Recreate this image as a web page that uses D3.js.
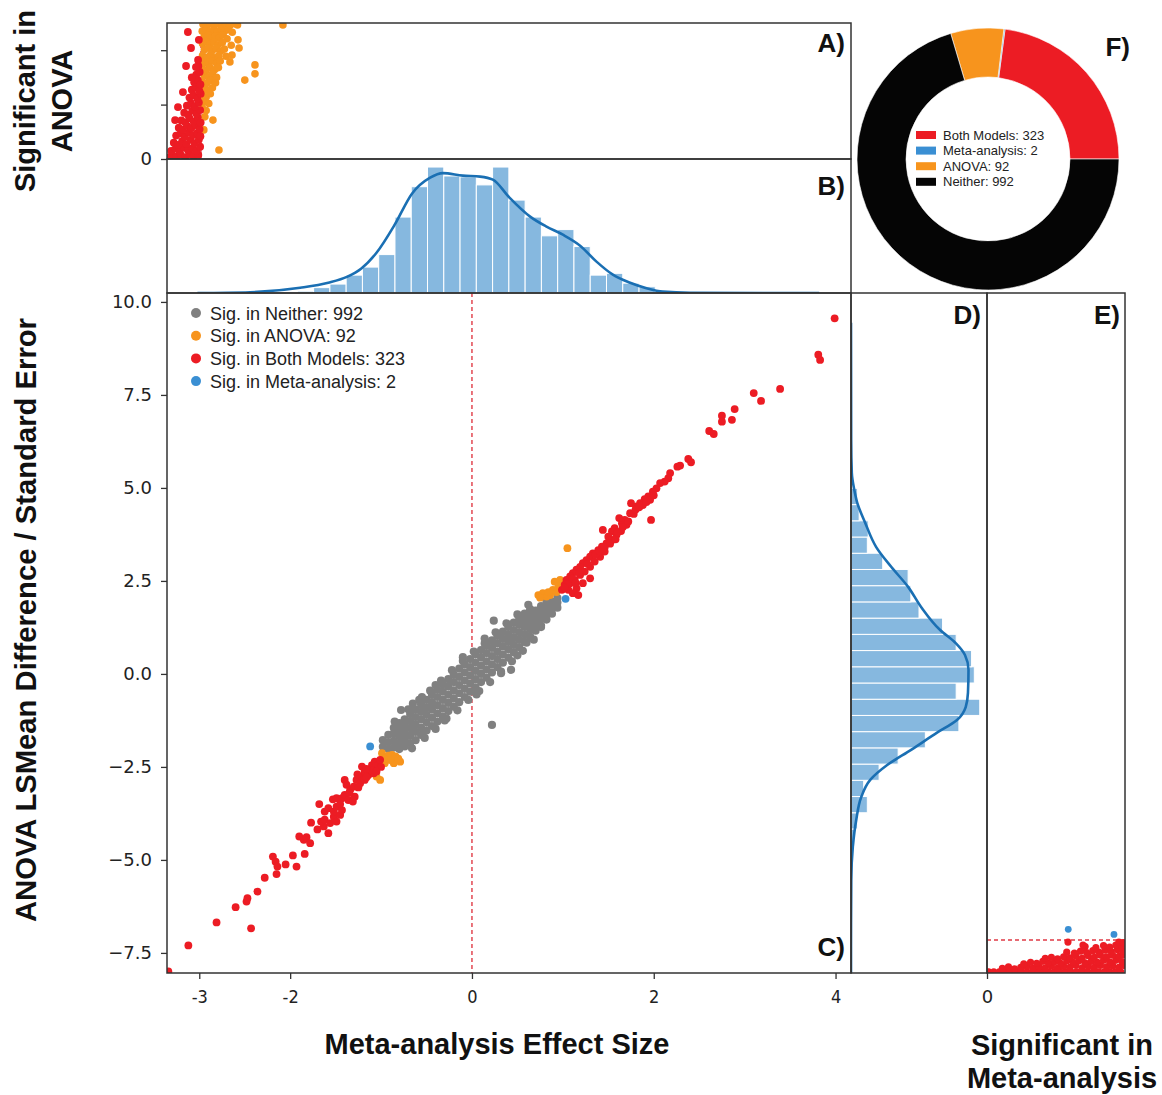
<!DOCTYPE html>
<html>
<head>
<meta charset="utf-8">
<script src="https://cdn.jsdelivr.net/npm/d3@7"></script>
<style>
body { margin: 0; background: #fff; }
svg text { font-family: "Liberation Sans", Arial, sans-serif; fill: #111; }
</style>
</head>
<body>
<div id="chart"></div>
<script>
// ---- data ----
var xTicks = [-3, -2, 0, 2, 4];
var yTicks = [10, 7.5, 5, 2.5, 0, -2.5, -5, -7.5];

var sigNeither = [
  [-0.98,-1.96],[-0.98,-1.78],
  [-0.92,-2.02],[-0.92,-1.84],[-0.92,-1.64],
  [-0.86,-1.98],[-0.86,-1.8],[-0.86,-1.6],[-0.86,-1.45],
  [-0.8,-2.02],[-0.8,-1.85],[-0.8,-1.66],[-0.8,-1.48],[-0.8,-1.32],
  [-0.74,-1.95],[-0.74,-1.76],[-0.74,-1.58],[-0.74,-1.4],[-0.74,-1.22],
  [-0.68,-1.86],[-0.68,-1.66],[-0.68,-1.46],[-0.68,-1.27],[-0.68,-1.08],
  [-0.62,-1.78],[-0.62,-1.56],[-0.62,-1.36],[-0.62,-1.16],[-0.62,-0.96],
  [-0.56,-1.64],[-0.56,-1.44],[-0.56,-1.22],[-0.56,-1.02],[-0.56,-0.82],
  [-0.5,-1.52],[-0.5,-1.3],[-0.5,-1.1],[-0.5,-0.9],[-0.5,-0.7],
  [-0.44,-1.4],[-0.44,-1.18],[-0.44,-0.96],[-0.44,-0.76],[-0.44,-0.56],
  [-0.38,-1.28],[-0.38,-1.06],[-0.38,-0.84],[-0.38,-0.62],[-0.38,-0.42],
  [-0.32,-1.14],[-0.32,-0.92],[-0.32,-0.7],[-0.32,-0.48],[-0.32,-0.28],
  [-0.26,-1.0],[-0.26,-0.78],[-0.26,-0.56],[-0.26,-0.34],[-0.26,-0.14],
  [-0.2,-0.88],[-0.2,-0.66],[-0.2,-0.44],[-0.2,-0.22],[-0.2,-0.02],
  [-0.14,-0.76],[-0.14,-0.52],[-0.14,-0.3],[-0.14,-0.08],[-0.14,0.14],
  [-0.08,-0.62],[-0.08,-0.4],[-0.08,-0.18],[-0.08,0.04],[-0.08,0.26],
  [-0.02,-0.48],[-0.02,-0.26],[-0.02,-0.04],[-0.02,0.18],[-0.02,0.4],
  [0.04,-0.36],[0.04,-0.14],[0.04,0.08],[0.04,0.3],[0.04,0.52],
  [0.1,-0.22],[0.1,0],[0.1,0.22],[0.1,0.44],[0.1,0.64],
  [0.16,-0.1],[0.16,0.12],[0.16,0.34],[0.16,0.56],[0.16,0.76],
  [0.22,0.04],[0.22,0.26],[0.22,0.48],[0.22,0.7],[0.22,0.9],
  [0.28,0.18],[0.28,0.4],[0.28,0.6],[0.28,0.82],[0.28,1.02],
  [0.34,0.3],[0.34,0.52],[0.34,0.74],[0.34,0.94],[0.34,1.14],
  [0.4,0.44],[0.4,0.66],[0.4,0.86],[0.4,1.06],[0.4,1.26],
  [0.46,0.58],[0.46,0.78],[0.46,0.98],[0.46,1.18],[0.46,1.38],
  [0.52,0.72],[0.52,0.92],[0.52,1.12],[0.52,1.32],[0.52,1.5],
  [0.58,0.86],[0.58,1.06],[0.58,1.26],[0.58,1.44],[0.58,1.62],
  [0.64,1.0],[0.64,1.2],[0.64,1.38],[0.64,1.56],[0.64,1.74],
  [0.7,1.16],[0.7,1.34],[0.7,1.52],[0.7,1.7],
  [0.76,1.3],[0.76,1.48],[0.76,1.64],[0.76,1.82],
  [0.82,1.46],[0.82,1.62],[0.82,1.78],[0.82,1.94],
  [0.88,1.62],[0.88,1.78],[0.88,1.94],
  [0.94,1.78],[0.94,1.92],[0.94,2.04],
  [-0.7,-0.95],[-0.58,-0.7],[-0.46,-0.45],[-0.34,-0.18],[-0.22,0.1],[-0.1,0.35],
  [0.02,0.6],[0.14,0.82],[0.26,1.12],[0.38,1.36],[0.5,1.6],[0.62,1.86],
  [-0.66,-2.0],[-0.52,-1.72],[-0.4,-1.48],[-0.28,-1.2],[-0.16,-0.98],[-0.04,-0.7],
  [0.08,-0.46],[0.2,-0.22],[0.32,0.06],[0.44,0.34],[0.56,0.62],[0.68,0.92],
  [-0.78,-0.97],[0.22,-1.37],[0.43,0.11],[0.6,0.84],[0.76,1.26],[0.24,1.43],
  [-0.55,-0.62],[-0.4,-0.3],[-0.1,0.45],[0.05,-0.55],[0.32,0.02],[-0.65,-0.8],
  [-0.3,-1.25],[0.5,0.5],[0.14,0.95],[-0.85,-1.28]
];

var sigAnova = [
  [-0.99,-2.13],[-0.94,-2.27],[-0.88,-2.18],[-0.83,-2.31],[-0.86,-2.4],[-0.79,-2.36],
  [-0.96,-2.4],[-1.01,-2.85],[-1.05,-2.76],[-0.92,-2.2],[-0.9,-2.32],[-0.84,-2.22],
  [-0.81,-2.28],[-0.97,-2.28],
  [0.73,2.12],[0.78,2.17],[0.86,2.12],[0.89,2.26],[0.95,2.35],[0.91,2.48],[0.97,2.53],
  [0.82,2.08],[1.05,3.38],[0.84,2.2],[0.93,2.2],[0.99,2.42],[0.75,2.05]
];

var sigBoth = [
  [-3.34,-8.0],[-3.12,-7.3],[-2.81,-6.68],[-2.43,-6.84],[-2.6,-6.27],[-2.48,-6.12],[-2.47,-6.03],
  [-2.36,-5.85],[-2.28,-5.48],[-2.15,-5.38],[-2.19,-4.91],[-2.16,-5.05],[-2.14,-5.18],[-2.05,-5.12],
  [-1.97,-4.88],[-1.93,-5.18],[-1.84,-4.84],[-1.9,-4.37],[-1.85,-4.46],[-1.82,-4.39],[-1.78,-4.55],
  [-1.77,-4.0],[-1.68,-3.5],[-1.7,-4.18],[-1.63,-4.1],[-1.58,-4.28],[-1.66,-3.97],[-1.62,-3.92],
  [-1.56,-4.01],[-1.52,-3.84],[-1.49,-3.97],[-1.45,-3.79],[-1.62,-3.7],[-1.58,-3.61],[-1.52,-3.7],
  [-1.49,-3.57],[-1.43,-3.66],[-1.53,-3.37],[-1.49,-3.34],[-1.43,-3.34],[-1.4,-3.25],[-1.36,-3.39],
  [-1.31,-3.43],[-1.29,-3.3],[-1.4,-2.85],[-1.38,-2.98],[-1.34,-3.12],[-1.3,-3.03],[-1.27,-2.85],
  [-1.23,-2.94],[-1.21,-2.76],[-1.18,-2.85],[-1.14,-2.72],[-1.18,-2.63],[-1.12,-2.58],[-1.08,-2.67],
  [-1.05,-2.53],[-1.21,-2.49],[-1.1,-2.45],[-1.07,-2.36],[-1.03,-2.45],[-1.01,-2.31],
  [-1.25,-3.05],[-1.16,-2.78],[-1.1,-2.6],[-1.45,-3.5],[-1.35,-3.2],[-1.26,-2.7],[-1.16,-2.55],
  [-1.0,-2.5],[-1.05,-2.62],
  [3.99,9.56],[3.81,8.58],[3.83,8.44],[3.39,7.66],[3.1,7.55],[3.18,7.34],[2.89,7.12],[2.75,6.94],
  [2.75,6.78],[2.86,6.83],[2.61,6.53],[2.66,6.45],[2.38,5.78],[2.41,5.69],[2.26,5.57],[2.29,5.6],
  [2.18,5.4],[2.16,5.26],[2.12,5.17],[2.07,5.13],[2.03,4.99],[1.99,4.9],[1.94,4.77],[1.9,4.7],
  [1.85,4.59],[1.81,4.5],[1.75,4.59],[1.88,4.54],[1.96,4.68],[1.97,4.14],[1.74,4.32],[1.68,4.14],
  [1.65,4.05],[1.7,4.01],[1.62,4.19],[1.57,3.92],[1.54,3.83],[1.44,3.87],[1.59,3.74],[1.5,3.69],
  [1.54,3.6],[1.48,3.51],[1.43,3.42],[1.39,3.33],[1.33,3.24],[1.3,3.15],[1.26,3.06],[1.22,2.98],
  [1.19,2.88],[1.15,2.8],[1.11,2.71],[1.08,2.62],[1.04,2.53],[1.02,2.39],[1.08,2.44],[1.13,2.53],
  [1.19,2.66],[1.24,2.75],[1.3,2.88],[1.35,3.02],[1.41,3.15],[1.46,3.29],[1.15,2.3],[1.3,2.57],
  [1.06,2.26],[1.11,2.17],[1.17,2.12],[0.99,2.26],[1.22,2.44],
  [1.52,3.5],[1.58,3.62],[1.64,3.84],[1.66,3.95],[1.72,4.1],[1.78,4.3],[1.8,4.42],[1.84,4.48],
  [1.92,4.62],[2.0,4.8],[1.36,3.22],[1.27,2.96],[1.18,2.72],[1.1,2.56],[1.05,2.42],[1.6,3.8],
  [1.46,3.4],[1.4,3.3],[1.02,2.32],[1.14,2.45]
];

var sigMeta = [[-1.12,-1.95],[1.03,2.02]];

// panel A: significant in ANOVA
var anovaPanelBoth = [
  [0.08,0.06],[0.2,0.14],[0.36,0.09],[0.52,0.16],[0.7,0.07],[0.86,0.18],[1.02,0.1],[1.2,0.15],
  [0.16,0.3],[0.33,0.38],[0.48,0.28],[0.64,0.42],[0.8,0.33],[0.97,0.4],[1.13,0.3],[1.27,0.45],
  [0.26,0.6],[0.42,0.52],[0.58,0.66],[0.74,0.55],[0.9,0.7],[1.06,0.58],[1.22,0.72],
  [0.35,0.86],[0.52,0.94],[0.68,0.82],[0.84,0.98],[1.0,0.88],[1.16,0.96],[1.28,0.84],
  [0.45,1.15],[0.6,1.08],[0.77,1.22],[0.93,1.14],[1.1,1.25],[1.25,1.1],
  [0.55,1.42],[0.7,1.35],[0.86,1.5],[1.02,1.38],[1.18,1.52],[1.29,1.34],
  [0.66,1.7],[0.82,1.62],[0.97,1.78],[1.13,1.66],[1.27,1.8],
  [0.76,1.96],[0.92,2.05],[1.07,1.93],[1.22,2.08],
  [0.86,2.26],[1.01,2.34],[1.16,2.22],[1.29,2.4],
  [0.95,2.55],[1.1,2.62],[1.24,2.5],
  [1.04,2.82],[1.18,2.9],[1.28,2.74],
  [1.12,3.1],[1.25,3.2],[1.2,3.42],
  [0.8,4.67],[0.92,4.08],[0.73,3.42],[1.11,3.38],[1.19,3.64],[0.61,2.46],
  [0.42,1.91],[0.31,1.43],[1.22,4.38],[0.95,3.0]
];
var anovaPanelAnova = [
  [1.38,4.95],[1.52,4.88],[1.66,4.97],[1.8,4.9],[1.95,4.98],[2.1,4.92],[2.25,4.96],[2.4,4.9],[2.58,4.97],[2.7,4.93],
  [1.35,4.7],[1.5,4.76],[1.63,4.66],[1.78,4.74],[1.92,4.68],[2.06,4.78],[2.2,4.7],[2.36,4.75],[2.5,4.66],
  [1.42,4.48],[1.58,4.55],[1.72,4.44],[1.86,4.52],[2.0,4.46],[2.15,4.56],[2.3,4.42],
  [1.36,4.25],[1.5,4.32],[1.65,4.22],[1.8,4.3],[1.96,4.2],[2.12,4.28],[2.46,4.18],
  [1.43,4.02],[1.58,4.08],[1.73,3.98],[1.88,4.06],[2.05,3.96],[2.2,4.04],
  [1.36,3.8],[1.52,3.74],[1.67,3.84],[1.82,3.72],[1.98,3.8],[2.26,3.78],
  [1.42,3.56],[1.57,3.5],[1.72,3.6],[1.9,3.52],[2.04,3.6],
  [1.36,3.32],[1.5,3.26],[1.65,3.36],[1.82,3.28],[1.97,3.36],
  [1.42,3.08],[1.58,3.02],[1.74,3.12],[1.9,3.0],
  [1.36,2.84],[1.52,2.78],[1.68,2.88],[1.86,2.8],
  [1.42,2.58],[1.58,2.52],[1.74,2.62],
  [1.36,2.34],[1.5,2.28],[1.66,2.4],
  [1.42,2.1],[1.6,2.04],[1.36,1.86],[1.5,1.78],
  [1.76,1.43],[1.41,1.07],[1.99,0.33],[2.98,2.9],[3.37,3.46],[3.37,3.13],
  [2.72,4.38],[2.76,4.08],[4.44,4.93],[2.41,3.57],[2.49,3.82],[1.45,1.55]
];
var anovaCutoff = 1.3;

// panel E: significant in meta-analysis
var metaPanelBoth = [
  [0.05,0.05],[0.22,0.05],[0.4,0.05],[0.58,0.05],[0.76,0.05],[0.94,0.05],[1.12,0.05],[1.3,0.05],
  [1.48,0.05],[1.66,0.05],[1.84,0.05],[2.02,0.05],[2.2,0.05],[2.38,0.05],[2.56,0.05],[2.74,0.05],
  [2.92,0.05],[3.1,0.05],[3.28,0.05],[3.46,0.05],[3.64,0.05],[3.82,0.05],[4.0,0.05],[4.18,0.05],[4.36,0.05],
  [0.5,0.18],[0.7,0.24],[0.9,0.16],[1.1,0.22],[1.3,0.26],[1.5,0.18],[1.7,0.25],[1.9,0.2],
  [2.1,0.28],[2.3,0.19],[2.5,0.26],[2.7,0.22],[2.9,0.3],[3.1,0.2],[3.3,0.27],[3.5,0.22],
  [3.7,0.3],[3.9,0.24],[4.1,0.28],[4.3,0.22],[4.45,0.3],
  [1.2,0.36],[1.42,0.42],[1.62,0.38],[1.82,0.46],[2.0,0.4],[2.2,0.44],[2.4,0.38],[2.6,0.47],
  [2.8,0.42],[3.0,0.48],[3.2,0.4],[3.4,0.46],[3.6,0.42],[3.8,0.5],[4.0,0.44],[4.2,0.5],[4.4,0.45],
  [1.9,0.58],[2.1,0.62],[2.3,0.56],[2.5,0.64],[2.7,0.6],[2.9,0.66],[3.1,0.58],[3.3,0.68],
  [3.5,0.62],[3.7,0.7],[3.9,0.64],[4.1,0.7],[4.3,0.66],[4.45,0.72],
  [2.6,0.82],[2.85,0.78],[3.05,0.86],[3.25,0.8],[3.45,0.88],[3.65,0.82],[3.85,0.9],[4.05,0.84],
  [4.25,0.92],[4.42,0.86],
  [3.2,1.04],[3.55,1.0],[3.8,1.08],[4.0,1.02],[4.2,1.1],[4.4,1.04],
  [2.64,1.22],[3.13,1.1],[4.3,1.22],[4.45,1.2]
];
var metaPanelMeta = [[2.65,1.72],[4.14,1.52]];
var metaCutoff = 1.3;

// panel B: histogram + kde of effect size
var histXStart = -2.10, histXBin = 0.179;
var histXCounts = [1,2,6,10,20,29,43,85,119,141,131,130,121,141,104,85,64,71,52,20,22,11,7,2,1];
var kdeX = [[-3.02,0],[-2.44,0.9],[-1.89,5.9],[-1.58,11.5],[-1.37,18.3],[-1.22,27.2],[-1.05,45.1],
  [-0.85,76.5],[-0.66,111.2],[-0.46,129.1],[-0.32,134.2],[-0.1,131.4],[0.09,130.3],[0.23,126.9],
  [0.41,107.1],[0.64,85.5],[0.82,74.3],[1.0,65.3],[1.19,53],[1.37,35.1],[1.55,20.5],[1.74,11.5],
  [1.92,5.4],[2.1,1.5],[2.4,0.3],[3.82,0]];

// panel D: histogram + kde of ANOVA difference / SE
var histYStart = -5.04, histYBin = 0.436;
var histYCounts = [2,4,7,18,14,31,52,82,119,142,116,136,133,116,101,75,66,63,35,18,19,9,7,1];
var kdeY = [[-8.04,0],[-7.34,0],[-5.54,0.3],[-4.65,2],[-3.92,5.8],[-3.31,11.3],[-2.85,21.2],
  [-2.45,39.9],[-2.04,66.3],[-1.58,94.9],[-1.24,116.9],[-0.89,126.5],[-0.51,129],[0.11,129.6],
  [0.51,125.7],[0.83,115.5],[1.18,98.3],[1.8,77.3],[2.34,63],[2.88,44.3],[3.41,27.8],[4.06,15.7],
  [4.6,6.9],[4.95,3.6],[5.4,0.9],[6.29,0.2],[9.44,0]];

// panel F: donut
var pieLabels = ["Both Models", "Meta-analysis", "ANOVA", "Neither"];
var pieCounts = [323, 2, 92, 992];

var legendLabels = ["Sig. in Neither: 992", "Sig. in ANOVA: 92", "Sig. in Both Models: 323", "Sig. in Meta-analysis: 2"];

// ---- styles ----
var cNeither = "#808080", cAnova = "#f7941d", cBoth = "#ec1c24", cMeta = "#3a8fd3", cBlack = "#050505";
var cBar = "#86b8df", cKde = "#1a6fb3", cFrame = "#333";

var svg = d3.select("#chart").append("svg")
    .attr("width", 1162)
    .attr("height", 1095);

var main = {left: 167, right: 851, top: 293, bottom: 973},
    pA = {left: 167, right: 851, top: 23, bottom: 159},
    pB = {left: 167, right: 851, top: 159, bottom: 293},
    pD = {left: 851, right: 987, top: 293, bottom: 973},
    pE = {left: 987, right: 1125, top: 293, bottom: 973};

var x = d3.scaleLinear().domain([-3.355, 4.17]).range([main.left, main.right]),
    y = d3.scaleLinear().domain([-8.04, 10.24]).range([main.bottom, main.top]),
    hb = d3.scaleLinear().domain([0, 150]).range([pB.bottom, pB.top]),
    hd = d3.scaleLinear().domain([0, 150]).range([pD.left, pD.right]),
    xa = d3.scaleLinear().domain([0, 26.2]).range([pA.left, pA.right]),
    ya = d3.scaleLinear().domain([0, 5]).range([pA.bottom, pA.top]),
    xe = d3.scaleLinear().domain([0, 4.5]).range([pE.left, pE.right]),
    ye = d3.scaleLinear().domain([0, 26.8]).range([pE.bottom, pE.top]);

var defs = svg.append("defs");
function clip(id, p) {
    defs.append("clipPath").attr("id", id).append("rect")
        .attr("x", p.left).attr("y", p.top)
        .attr("width", p.right - p.left).attr("height", p.bottom - p.top);
    return svg.append("g").attr("clip-path", "url(#" + id + ")");
}

function dots(g, data, sx, sy, r, color) {
    g.selectAll(null).data(data).enter().append("circle")
        .attr("cx", function (d) { return sx(d[0]); })
        .attr("cy", function (d) { return sy(d[1]); })
        .attr("r", r)
        .attr("fill", color);
}

// panel B histogram
var gB = clip("clipB", pB);
gB.selectAll("rect").data(histXCounts).enter().append("rect")
    .attr("x", function (d, i) { return x(histXStart + i * histXBin); })
    .attr("width", function (d, i) { return x(histXStart + (i + 1) * histXBin) - x(histXStart + i * histXBin); })
    .attr("y", function (d) { return hb(d); })
    .attr("height", function (d) { return hb(0) - hb(d); })
    .attr("fill", cBar)
    .attr("stroke", "#fff")
    .attr("stroke-width", 1);
gB.append("path")
    .datum(kdeX)
    .attr("d", d3.line().x(function (d) { return x(d[0]); }).y(function (d) { return hb(d[1]); }).curve(d3.curveMonotoneX))
    .attr("fill", "none").attr("stroke", cKde).attr("stroke-width", 2.6);

// panel D histogram
var gD = clip("clipD", pD);
gD.selectAll("rect").data(histYCounts).enter().append("rect")
    .attr("y", function (d, i) { return y(histYStart + (i + 1) * histYBin); })
    .attr("height", function (d, i) { return y(histYStart + i * histYBin) - y(histYStart + (i + 1) * histYBin); })
    .attr("x", hd(0))
    .attr("width", function (d) { return hd(d) - hd(0); })
    .attr("fill", cBar)
    .attr("stroke", "#fff")
    .attr("stroke-width", 1);
gD.append("path")
    .datum(kdeY)
    .attr("d", d3.line().x(function (d) { return hd(d[1]); }).y(function (d) { return y(d[0]); }).curve(d3.curveMonotoneY))
    .attr("fill", "none").attr("stroke", cKde).attr("stroke-width", 2.6);

// main scatter
var gM = clip("clipM", main);
gM.append("line")
    .attr("x1", x(0)).attr("x2", x(0)).attr("y1", main.top).attr("y2", main.bottom)
    .attr("stroke", "#e03a45").attr("stroke-width", 1.4).attr("stroke-dasharray", "4,3");
dots(gM, sigNeither, x, y, 4.1, cNeither);
dots(gM, sigAnova, x, y, 3.9, cAnova);
dots(gM, sigBoth, x, y, 3.9, cBoth);
dots(gM, sigMeta, x, y, 3.9, cMeta);

// panel A
var gA = clip("clipA", pA);
gA.append("line")
    .attr("x1", xa(anovaCutoff)).attr("x2", xa(anovaCutoff)).attr("y1", pA.top).attr("y2", pA.bottom)
    .attr("stroke", "#e03a45").attr("stroke-width", 1.3).attr("stroke-dasharray", "4,3");
dots(gA, anovaPanelAnova, xa, ya, 3.8, cAnova);
dots(gA, anovaPanelBoth, xa, ya, 3.9, cBoth);

// panel E
var gE = clip("clipE", pE);
gE.append("line")
    .attr("x1", pE.left).attr("x2", pE.right).attr("y1", ye(metaCutoff)).attr("y2", ye(metaCutoff))
    .attr("stroke", "#e03a45").attr("stroke-width", 1.3).attr("stroke-dasharray", "4,3");
dots(gE, metaPanelBoth, xe, ye, 3.6, cBoth);
dots(gE, metaPanelMeta, xe, ye, 3.4, cMeta);

// frames
[pA, pB, main, pD, pE].forEach(function (p) {
    svg.append("rect")
        .attr("x", p.left).attr("y", p.top)
        .attr("width", p.right - p.left).attr("height", p.bottom - p.top)
        .attr("fill", "none").attr("stroke", cFrame).attr("stroke-width", 1.5);
});

// axes
function styleAxis(g, family, size) {
    g.select(".domain").remove();
    g.selectAll(".tick line").attr("stroke", cFrame).attr("stroke-width", 1.3);
    g.selectAll(".tick text").style("font-family", family).style("font-size", size + "px").style("fill", "#222");
}
var yAxisG = svg.append("g").attr("transform", "translate(" + main.left + ",0)")
    .call(d3.axisLeft(y).tickValues(yTicks).tickSize(6).tickPadding(9).tickFormat(d3.format(".1f")));
styleAxis(yAxisG, "DejaVu Sans", 18);

var xAxisG = svg.append("g").attr("transform", "translate(0," + main.bottom + ")")
    .call(d3.axisBottom(x).tickValues(xTicks).tickSize(6).tickPadding(11).tickFormat(function (d) { return String(d); }));
styleAxis(xAxisG, "'DejaVu Sans Condensed', 'DejaVu Sans'", 18);

var aAxisG = svg.append("g").attr("transform", "translate(" + pA.left + ",0)")
    .call(d3.axisLeft(ya).tickValues([0, 2, 4]).tickSize(6).tickPadding(9)
        .tickFormat(function (d) { return d === 0 ? "0" : ""; }));
styleAxis(aAxisG, "DejaVu Sans", 18);

var eAxisG = svg.append("g").attr("transform", "translate(0," + pE.bottom + ")")
    .call(d3.axisBottom(xe).tickValues([0]).tickSize(6).tickPadding(11).tickFormat(function () { return "0"; }));
styleAxis(eAxisG, "DejaVu Sans", 18);

// main legend
var leg = svg.append("g");
var legColors = [cNeither, cAnova, cBoth, cMeta];
legendLabels.forEach(function (t, i) {
    leg.append("circle").attr("cx", 196).attr("cy", 313 + i * 22.7).attr("r", 5).attr("fill", legColors[i]);
    leg.append("text").attr("x", 210).attr("y", 313 + i * 22.7 + 6.5)
        .style("font-size", "18px").style("fill", "#222").text(t);
});

// donut
var pieColors = [cBoth, cMeta, cAnova, cBlack];
var pie = d3.pie().sort(null).value(function (d) { return d; })
    .startAngle(Math.PI / 2).endAngle(Math.PI / 2 - 2 * Math.PI);
var arc = d3.arc().innerRadius(82).outerRadius(131);
var donut = svg.append("g").attr("transform", "translate(988,159)");
donut.selectAll("path").data(pie(pieCounts)).enter().append("path")
    .attr("d", arc)
    .attr("fill", function (d, i) { return pieColors[i]; })
    .attr("stroke", "#fff").attr("stroke-width", 0.6);
pieLabels.forEach(function (t, i) {
    svg.append("rect").attr("x", 916).attr("y", 131 + i * 15.6).attr("width", 20).attr("height", 8)
        .attr("fill", pieColors[i]);
    svg.append("text").attr("x", 943).attr("y", 135 + i * 15.6 + 4.6)
        .style("font-size", "13px").style("fill", "#222").text(t + ": " + pieCounts[i]);
});

// panel letters
[["A)", 845, 52], ["B)", 845, 195], ["C)", 845, 956], ["D)", 981, 324], ["E)", 1120, 324], ["F)", 1130, 56]]
    .forEach(function (l) {
        svg.append("text").attr("x", l[1]).attr("y", l[2]).attr("text-anchor", "end")
            .style("font-size", "26px").style("font-weight", "bold").text(l[0]);
    });

// axis titles
function title(txt, tx, ty, rot, len) {
    var t = svg.append("text")
        .attr("transform", "translate(" + tx + "," + ty + ")" + (rot ? " rotate(-90)" : ""))
        .attr("text-anchor", "middle")
        .style("font-size", "29px").style("font-weight", "bold")
        .text(txt);
    if (len) t.attr("textLength", len).attr("lengthAdjust", "spacingAndGlyphs");
}
title("ANOVA LSMean Difference / Standard Error", 36, 620, true, 604);
title("Significant in", 35, 101, true);
title("ANOVA", 72, 101, true);
title("Meta-analysis Effect Size", 497, 1054, false);
title("Significant in", 1062, 1055, false);
title("Meta-analysis", 1062, 1088, false);
</script>
</body>
</html>
